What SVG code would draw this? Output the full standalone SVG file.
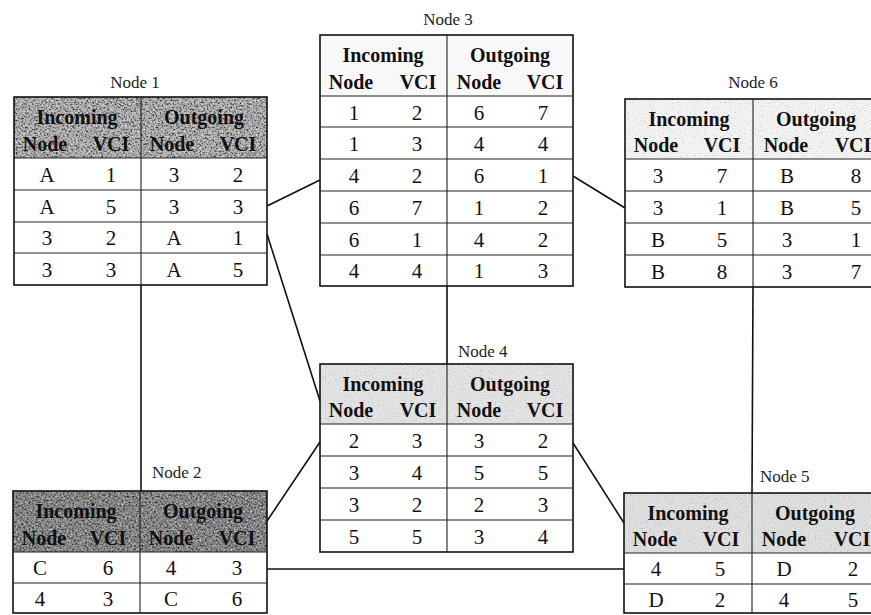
<svg xmlns="http://www.w3.org/2000/svg" width="871" height="615" viewBox="0 0 871 615">
  <style>
    .frame { fill: none; stroke: #111; stroke-width: 1.6; }
    .rule { stroke: #222; stroke-width: 1.1; fill: none; }
    .hd { font-family: "Liberation Serif", "Times New Roman", serif; font-weight: bold; font-size: 20px; text-anchor: middle; fill: #111; }
    .cell { font-family: "Liberation Serif", "Times New Roman", serif; font-size: 21px; text-anchor: middle; fill: #111; }
    .label { font-family: "Liberation Serif", "Times New Roman", serif; font-size: 17px; fill: #222; }
    .mid { text-anchor: middle; }
    .link { stroke: #111; stroke-width: 1.6; fill: none; }
  </style>
  <defs>
    <!-- stippled halftone texture for the shaded header bands -->
    <filter id="grainDark" color-interpolation-filters="sRGB">
      <feTurbulence type="fractalNoise" baseFrequency="0.55" numOctaves="3" seed="7" result="noise"/>
      <feColorMatrix in="noise" type="matrix" values="0 0 0 0 0.1  0 0 0 0 0.1  0 0 0 0 0.1  -2.6 0 0 0 1.35" result="dark"/>
      <feColorMatrix in="noise" type="matrix" values="0 0 0 0 1  0 0 0 0 1  0 0 0 0 1  2.6 0 0 0 -1.55" result="light"/>
      <feMerge result="specks"><feMergeNode in="dark"/><feMergeNode in="light"/></feMerge>
      <feComposite in="specks" in2="SourceGraphic" operator="in" result="clipped"/>
      <feMerge><feMergeNode in="SourceGraphic"/><feMergeNode in="clipped"/></feMerge>
    </filter>
    <filter id="grainLight" color-interpolation-filters="sRGB">
      <feTurbulence type="fractalNoise" baseFrequency="0.6" numOctaves="3" seed="11" result="noise"/>
      <feColorMatrix in="noise" type="matrix" values="0 0 0 0 0.45  0 0 0 0 0.45  0 0 0 0 0.45  -1.4 0 0 0 0.55" result="dark"/>
      <feComposite in="dark" in2="SourceGraphic" operator="in" result="clipped"/>
      <feMerge><feMergeNode in="SourceGraphic"/><feMergeNode in="clipped"/></feMerge>
    </filter>
  </defs>

  <rect width="871" height="615" fill="#fff"/>

  <!-- links between the switching nodes -->
  <g id="connectors">
    <line class="link" x1="141" y1="285" x2="141" y2="491"/>
    <line class="link" x1="447" y1="286" x2="447" y2="364"/>
    <line class="link" x1="753" y1="287" x2="752" y2="493"/>
    <line class="link" x1="267" y1="206" x2="320" y2="180"/>
    <line class="link" x1="267" y1="234" x2="320" y2="401"/>
    <line class="link" x1="573" y1="176" x2="625" y2="208"/>
    <line class="link" x1="267" y1="521" x2="320" y2="442"/>
    <line class="link" x1="573" y1="443" x2="624" y2="523"/>
    <line class="link" x1="267" y1="569" x2="624" y2="569"/>
  </g>

  <!-- Node 1 -->
  <g id="node1">
    <text class="label mid" x="135" y="88">Node 1</text>
    <rect x="14" y="97" width="253" height="61" fill="#b4b4b4" filter="url(#grainDark)"/>
    <rect class="frame" x="14" y="97" width="253" height="188"/>
    <line class="rule" x1="141" y1="97" x2="141" y2="285"/>
    <line class="rule" x1="14" y1="158" x2="267" y2="158"/>
    <line class="rule" x1="14" y1="190" x2="267" y2="190"/>
    <line class="rule" x1="14" y1="222" x2="267" y2="222"/>
    <line class="rule" x1="14" y1="253" x2="267" y2="253"/>
    <text class="hd" x="77" y="124">Incoming</text>
    <text class="hd" x="204" y="124">Outgoing</text>
    <text class="hd" x="45" y="151">Node</text>
    <text class="hd" x="111" y="151">VCI</text>
    <text class="hd" x="172" y="151">Node</text>
    <text class="hd" x="238" y="151">VCI</text>
    <text class="cell" x="47" y="182">A</text><text class="cell" x="111" y="182">1</text><text class="cell" x="174" y="182">3</text><text class="cell" x="238" y="182">2</text>
    <text class="cell" x="47" y="214">A</text><text class="cell" x="111" y="214">5</text><text class="cell" x="174" y="214">3</text><text class="cell" x="238" y="214">3</text>
    <text class="cell" x="47" y="245">3</text><text class="cell" x="111" y="245">2</text><text class="cell" x="174" y="245">A</text><text class="cell" x="238" y="245">1</text>
    <text class="cell" x="47" y="277">3</text><text class="cell" x="111" y="277">3</text><text class="cell" x="174" y="277">A</text><text class="cell" x="238" y="277">5</text>
  </g>

  <!-- Node 3 -->
  <g id="node3">
    <text class="label mid" x="448" y="25">Node 3</text>
    <rect x="320" y="35" width="253" height="61" fill="#f8f8f8"/>
    <rect class="frame" x="320" y="35" width="253" height="251"/>
    <line class="rule" x1="447" y1="35" x2="447" y2="286"/>
    <line class="rule" x1="320" y1="96" x2="573" y2="96"/>
    <line class="rule" x1="320" y1="127" x2="573" y2="127"/>
    <line class="rule" x1="320" y1="159" x2="573" y2="159"/>
    <line class="rule" x1="320" y1="191" x2="573" y2="191"/>
    <line class="rule" x1="320" y1="223" x2="573" y2="223"/>
    <line class="rule" x1="320" y1="255" x2="573" y2="255"/>
    <text class="hd" x="383" y="62">Incoming</text>
    <text class="hd" x="510" y="62">Outgoing</text>
    <text class="hd" x="351" y="89">Node</text>
    <text class="hd" x="418" y="89">VCI</text>
    <text class="hd" x="479" y="89">Node</text>
    <text class="hd" x="545" y="89">VCI</text>
    <text class="cell" x="354" y="120">1</text><text class="cell" x="417" y="120">2</text><text class="cell" x="479" y="120">6</text><text class="cell" x="543" y="120">7</text>
    <text class="cell" x="354" y="151">1</text><text class="cell" x="417" y="151">3</text><text class="cell" x="479" y="151">4</text><text class="cell" x="543" y="151">4</text>
    <text class="cell" x="354" y="183">4</text><text class="cell" x="417" y="183">2</text><text class="cell" x="479" y="183">6</text><text class="cell" x="543" y="183">1</text>
    <text class="cell" x="354" y="215">6</text><text class="cell" x="417" y="215">7</text><text class="cell" x="479" y="215">1</text><text class="cell" x="543" y="215">2</text>
    <text class="cell" x="354" y="247">6</text><text class="cell" x="417" y="247">1</text><text class="cell" x="479" y="247">4</text><text class="cell" x="543" y="247">2</text>
    <text class="cell" x="354" y="278">4</text><text class="cell" x="417" y="278">4</text><text class="cell" x="479" y="278">1</text><text class="cell" x="543" y="278">3</text>
  </g>

  <!-- Node 6 -->
  <g id="node6">
    <text class="label mid" x="753" y="88">Node 6</text>
    <rect x="625" y="99" width="255" height="60" fill="#f2f2f2" filter="url(#grainLight)"/>
    <rect class="frame" x="625" y="99" width="255" height="188"/>
    <line class="rule" x1="753" y1="99" x2="753" y2="287"/>
    <line class="rule" x1="625" y1="159" x2="880" y2="159"/>
    <line class="rule" x1="625" y1="191" x2="880" y2="191"/>
    <line class="rule" x1="625" y1="223" x2="880" y2="223"/>
    <line class="rule" x1="625" y1="255" x2="880" y2="255"/>
    <text class="hd" x="689" y="126">Incoming</text>
    <text class="hd" x="816" y="126">Outgoing</text>
    <text class="hd" x="656" y="152">Node</text>
    <text class="hd" x="722" y="152">VCI</text>
    <text class="hd" x="786" y="152">Node</text>
    <text class="hd" x="853" y="152">VCI</text>
    <text class="cell" x="658" y="183">3</text><text class="cell" x="722" y="183">7</text><text class="cell" x="787" y="183">B</text><text class="cell" x="856" y="183">8</text>
    <text class="cell" x="658" y="215">3</text><text class="cell" x="722" y="215">1</text><text class="cell" x="787" y="215">B</text><text class="cell" x="856" y="215">5</text>
    <text class="cell" x="658" y="247">B</text><text class="cell" x="722" y="247">5</text><text class="cell" x="787" y="247">3</text><text class="cell" x="856" y="247">1</text>
    <text class="cell" x="658" y="279">B</text><text class="cell" x="722" y="279">8</text><text class="cell" x="787" y="279">3</text><text class="cell" x="856" y="279">7</text>
  </g>

  <!-- Node 4 -->
  <g id="node4">
    <text class="label" x="458" y="357">Node 4</text>
    <rect x="320" y="364" width="253" height="60" fill="#e2e2e2" filter="url(#grainLight)"/>
    <rect class="frame" x="320" y="364" width="253" height="188"/>
    <line class="rule" x1="447" y1="364" x2="447" y2="552"/>
    <line class="rule" x1="320" y1="424" x2="573" y2="424"/>
    <line class="rule" x1="320" y1="456" x2="573" y2="456"/>
    <line class="rule" x1="320" y1="488" x2="573" y2="488"/>
    <line class="rule" x1="320" y1="520" x2="573" y2="520"/>
    <text class="hd" x="383" y="391">Incoming</text>
    <text class="hd" x="510" y="391">Outgoing</text>
    <text class="hd" x="351" y="417">Node</text>
    <text class="hd" x="418" y="417">VCI</text>
    <text class="hd" x="479" y="417">Node</text>
    <text class="hd" x="545" y="417">VCI</text>
    <text class="cell" x="354" y="448">2</text><text class="cell" x="417" y="448">3</text><text class="cell" x="479" y="448">3</text><text class="cell" x="543" y="448">2</text>
    <text class="cell" x="354" y="480">3</text><text class="cell" x="417" y="480">4</text><text class="cell" x="479" y="480">5</text><text class="cell" x="543" y="480">5</text>
    <text class="cell" x="354" y="512">3</text><text class="cell" x="417" y="512">2</text><text class="cell" x="479" y="512">2</text><text class="cell" x="543" y="512">3</text>
    <text class="cell" x="354" y="544">5</text><text class="cell" x="417" y="544">5</text><text class="cell" x="479" y="544">3</text><text class="cell" x="543" y="544">4</text>
  </g>

  <!-- Node 2 -->
  <g id="node2">
    <text class="label" x="152" y="478">Node 2</text>
    <rect x="13" y="491" width="254" height="61" fill="#8e8e8e" filter="url(#grainDark)"/>
    <rect class="frame" x="13" y="491" width="254" height="122"/>
    <line class="rule" x1="140" y1="491" x2="140" y2="613"/>
    <line class="rule" x1="13" y1="552" x2="267" y2="552"/>
    <line class="rule" x1="13" y1="583" x2="267" y2="583"/>
    <text class="hd" x="76" y="518">Incoming</text>
    <text class="hd" x="203" y="518">Outgoing</text>
    <text class="hd" x="44" y="545">Node</text>
    <text class="hd" x="108" y="545">VCI</text>
    <text class="hd" x="171" y="545">Node</text>
    <text class="hd" x="237" y="545">VCI</text>
    <text class="cell" x="40" y="575">C</text><text class="cell" x="108" y="575">6</text><text class="cell" x="171" y="575">4</text><text class="cell" x="237" y="575">3</text>
    <text class="cell" x="40" y="606">4</text><text class="cell" x="108" y="606">3</text><text class="cell" x="171" y="606">C</text><text class="cell" x="237" y="606">6</text>
  </g>

  <!-- Node 5 -->
  <g id="node5">
    <text class="label" x="760" y="482">Node 5</text>
    <rect x="624" y="493" width="256" height="60" fill="#dedede" filter="url(#grainLight)"/>
    <rect class="frame" x="624" y="493" width="256" height="120"/>
    <line class="rule" x1="752" y1="493" x2="752" y2="613"/>
    <line class="rule" x1="624" y1="553" x2="880" y2="553"/>
    <line class="rule" x1="624" y1="584" x2="880" y2="584"/>
    <text class="hd" x="688" y="520">Incoming</text>
    <text class="hd" x="815" y="520">Outgoing</text>
    <text class="hd" x="655" y="546">Node</text>
    <text class="hd" x="721" y="546">VCI</text>
    <text class="hd" x="784" y="546">Node</text>
    <text class="hd" x="852" y="546">VCI</text>
    <text class="cell" x="656" y="576">4</text><text class="cell" x="720" y="576">5</text><text class="cell" x="784" y="576">D</text><text class="cell" x="853" y="576">2</text>
    <text class="cell" x="656" y="607">D</text><text class="cell" x="720" y="607">2</text><text class="cell" x="784" y="607">4</text><text class="cell" x="853" y="607">5</text>
  </g>
</svg>
